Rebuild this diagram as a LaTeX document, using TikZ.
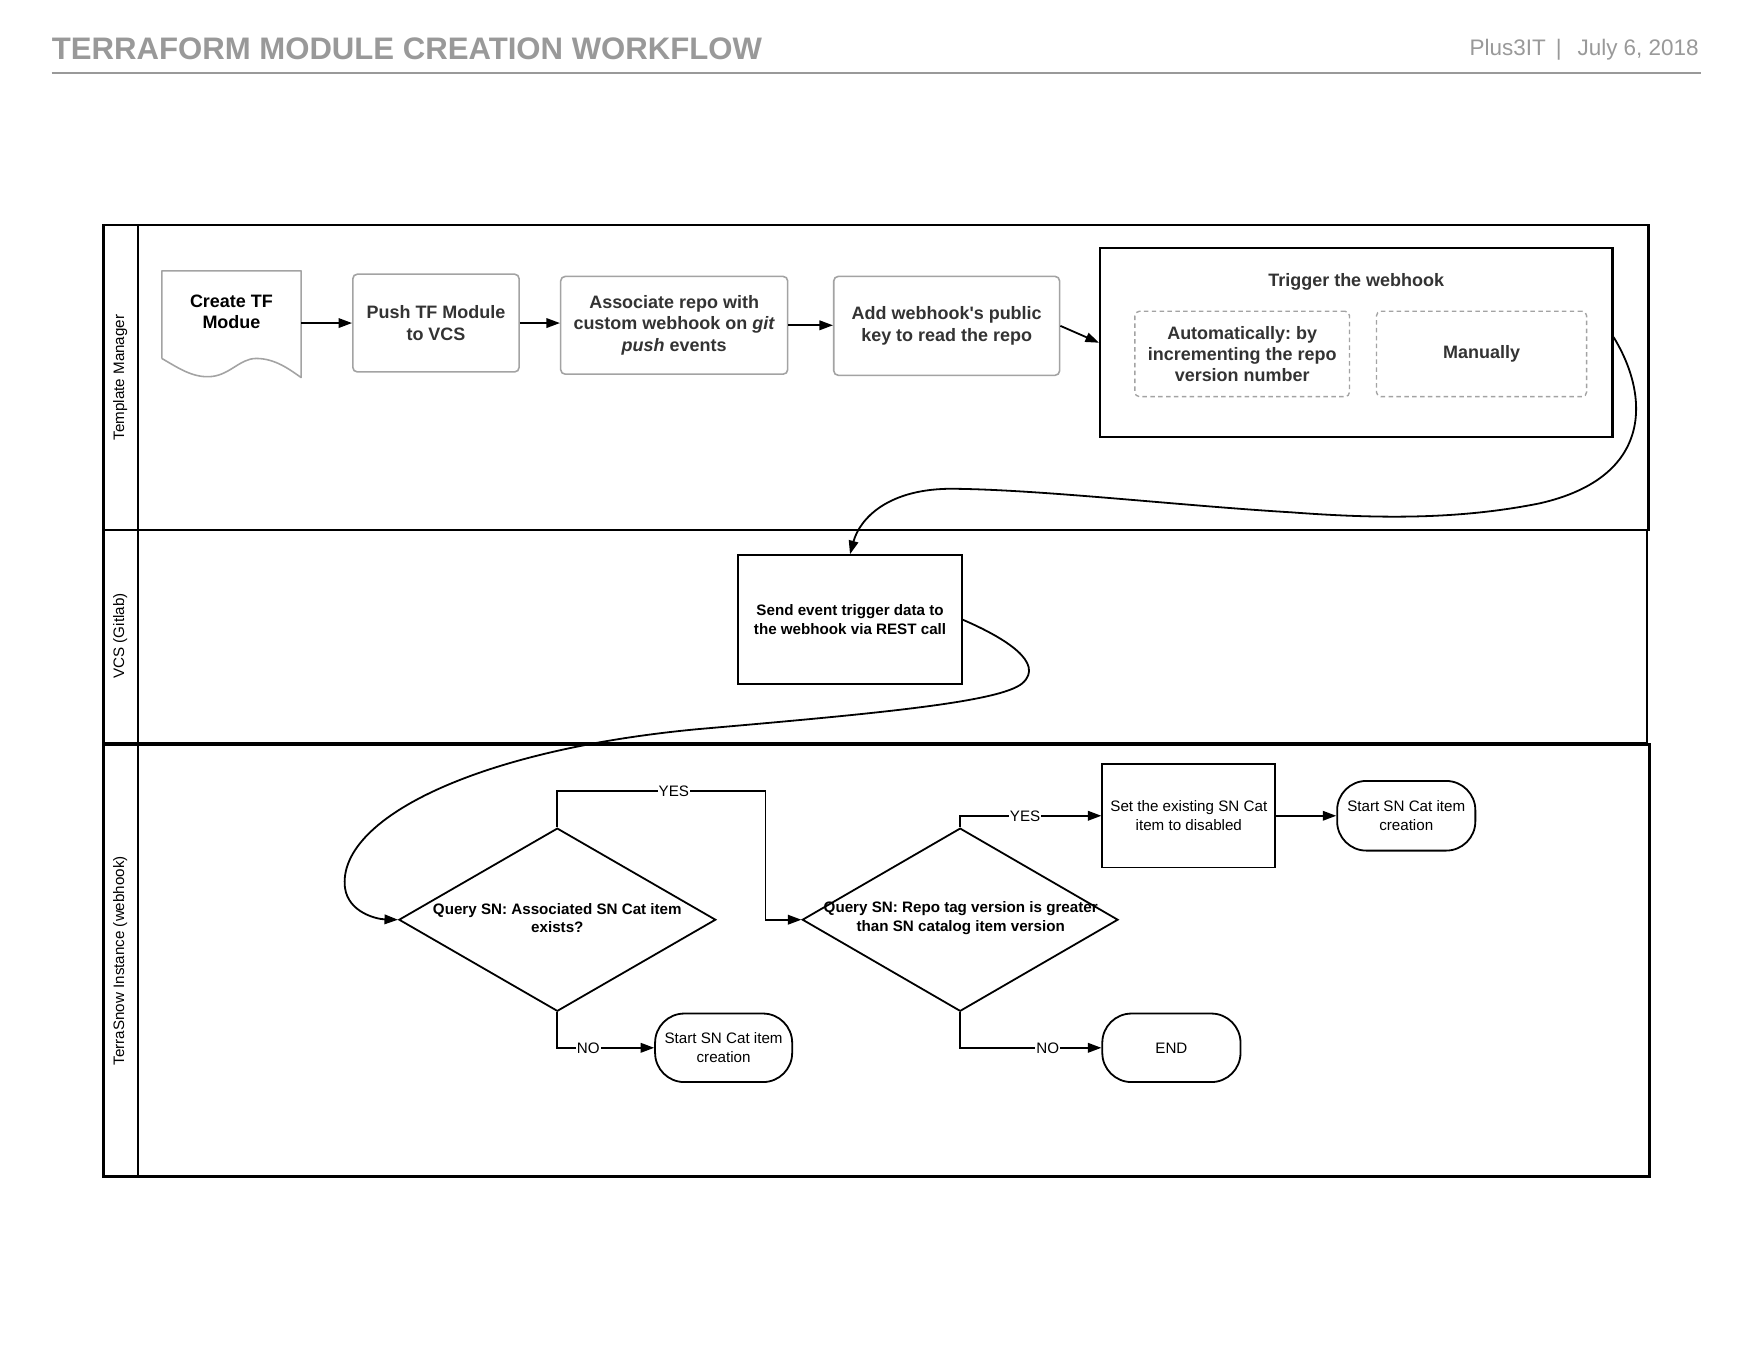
\documentclass[tikz,border=0pt]{standalone}
\usepackage{fontspec}
\setmainfont{Liberation Sans}[Ligatures=TeXOff]
\usetikzlibrary{arrows.meta,shapes.geometric}
\definecolor{txtg}{HTML}{333333}
\definecolor{boxg}{HTML}{A3A3A3}
\definecolor{hdr}{HTML}{999999}
\frenchspacing
\begin{document}
\begin{tikzpicture}[x=1pt,y=-1pt,
  tmfont/.style={font=\fontsize{16}{19}\selectfont\bfseries},
  lofont/.style={font=\fontsize{13.5}{16.5}\selectfont},
  tmbox/.style={draw=boxg, line width=1.4pt, rounded corners=4pt, text=txtg, tmfont, align=center, inner sep=0pt},
  dbox/.style={draw=boxg, line width=1.2pt, dash pattern=on 4pt off 3pt, rounded corners=4pt, text=txtg, tmfont, align=center, inner sep=0pt},
  lobox/.style={draw, line width=1.6pt, lofont, align=center, inner sep=0pt},
  term/.style={draw, line width=1.6pt, lofont, align=center, inner sep=0pt, rounded corners=26pt},
  dia/.style={draw, diamond, line width=1.6pt, inner sep=0pt},
  conn/.style={line width=1.6pt, -{Triangle[length=12pt,width=8.5pt]}},
  lanelbl/.style={lofont, rotate=90},
  yn/.style={lofont, fill=white, inner sep=1pt},
  lane/.style={draw, line width=2pt}
]
\useasboundingbox[fill=white] (0,0) rectangle (1569,1210.4);

% header
\node[anchor=west, text=hdr, font=\fontsize{27.7}{32}\selectfont\bfseries, inner sep=0] (title) at (46,43) {TERRAFORM MODULE CREATION WORKFLOW};
\node[anchor=east, text=hdr, font=\fontsize{20}{22}\selectfont, inner sep=0] (date) at (1512,44) {Plus3IT\hspace{9pt}|\hspace{14pt}July 6, 2018};
\draw[hdr, line width=1.3pt] (46,65) -- (1514,65);

% lanes
\draw[lane] (92,200) rectangle (1467,472);
\draw[lane] (92,472) rectangle (1466,661);
\draw[lane] (92,662.5) rectangle (1468,1047);
\draw[lane] (123,200) -- (123,1047);
\node[lanelbl] (l1) at (107,336) {Template Manager};
\node[lanelbl] (l2) at (107,566) {VCS (Gitlab)};
\node[lanelbl] (l3) at (107,855) {TerraSnow Instance (webhook)};

% top lane
\draw[boxg, line width=1.4pt, line join=round] (144,319) -- (144,241) -- (268,241) -- (268,336)
  .. controls (258,329) and (245,319) .. (228,319)
  .. controls (214,319) and (205,333) .. (189,335)
  .. controls (172,337) and (158,327) .. (144,319);
\node[minimum width=124, minimum height=95, inner sep=0] (create) at (206,287.5) {};
\node[tmfont, align=center, inner sep=0] (createt) at (206,277.5) {Create TF\\Modue};

\node[tmbox, minimum width=148, minimum height=87] (push) at (388,287.5) {Push TF Module\\to VCS};
\node[tmbox, minimum width=202, minimum height=87] (assoc) at (600,289.5) {Associate repo with\\custom webhook on \textit{git}\\\textit{push} events};
\node[tmbox, minimum width=201, minimum height=88] (add) at (842.5,290) {Add webhook's public\\key to read the repo};
\node[draw, line width=2pt, minimum width=456, minimum height=168, inner sep=0] (trig) at (1207,305) {};
\node[tmfont, text=txtg, inner sep=0] (trigt) at (1207,251) {Trigger the webhook};
\node[dbox, minimum width=191, minimum height=76] (auto) at (1105.5,315) {Automatically: by\\incrementing the repo\\version number};
\node[dbox, minimum width=187, minimum height=76] (man) at (1318.5,315) {Manually};

\draw[conn] (create.east) -- (push.west);
\draw[conn] (push.east) -- (push.east -| assoc.west);
\draw[conn] (assoc.east) -- (assoc.east -| add.west);
\draw[conn] (add.east) -- (trig.west);

% VCS lane
\node[lobox, font=\fontsize{13.5}{16.5}\selectfont\bfseries, minimum width=199, minimum height=115] (send) at (756.5,551.5) {Send event trigger data to\\the webhook via REST call};

\draw[conn] ([yshift=5pt]trig.east)
  .. controls (1468,352) and (1472,425) .. (1370,448)
  .. controls (1300,462) and (1230,462) .. (1150,456)
  .. controls (1050,450) and (930,436) .. (850,435)
  .. controls (790,434) and (765,462) .. (send.north);

% TerraSnow lane
\node[dia, minimum width=282, minimum height=163] (d1) at (496,818.5) {};
\node[font=\fontsize{13.5}{16.5}\selectfont\bfseries, align=center, inner sep=0] (d1t) at (496,817) {Query SN: Associated SN Cat item\\exists?};
\node[dia, minimum width=281, minimum height=163] (d2) at (854.5,818.5) {};
\node[font=\fontsize{13.5}{16.5}\selectfont\bfseries, align=center, inner sep=0] (d2t) at (855,817) {Query SN: Repo tag version is greater\\than SN catalog item version};

\node[lobox, minimum width=154, minimum height=92] (set) at (1058,726) {Set the existing SN Cat\\item to disabled};
\node[term, minimum width=123, minimum height=62] (s2) at (1251.5,726) {Start SN Cat item\\creation};
\node[term, minimum width=122, minimum height=61] (s1) at (644,932.5) {Start SN Cat item\\creation};
\node[term, minimum width=123, minimum height=61] (endn) at (1042.5,932.5) {END};

\draw[conn] (send.east)
  .. controls (895,568) and (930,590) .. (910,608)
  .. controls (890,625) and (780,635) .. (620,649)
  .. controls (420,668) and (300,730) .. (307,790)
  .. controls (310,812) and (335,818) .. (d1.west);

\draw[conn] (d1.north) -- ++(0,-32) -| node[yn, pos=0.28] (yes1) {YES} ([xshift=-32pt]d2.west) -- (d2.west);
\draw[conn] (d1.south) |- node[yn, pos=0.66] (no1) {NO} (s1.west);
\draw[conn] (d2.north) |- node[yn, pos=0.73] (yes2) {YES} (set.west);
\draw[conn] (d2.south) |- node[yn, pos=0.81] (no2) {NO} (endn.west);
\draw[conn] (set.east) -- (s2.west);
\end{tikzpicture}
\end{document}
